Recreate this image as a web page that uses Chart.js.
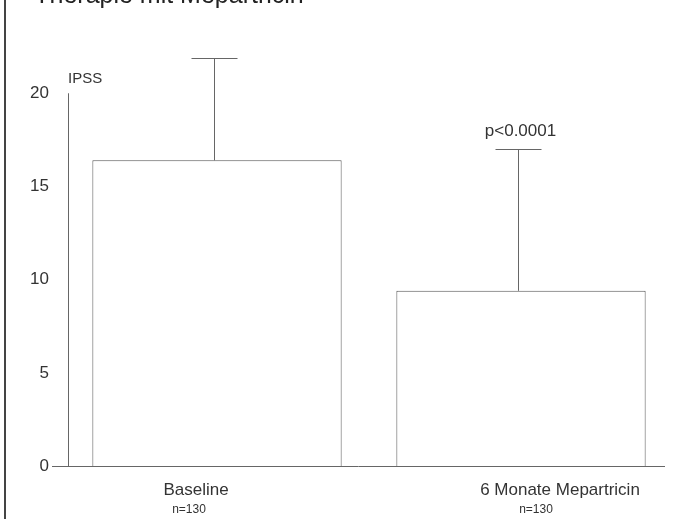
<!DOCTYPE html>
<html>
<head>
<meta charset="utf-8">
<script src="https://cdn.jsdelivr.net/npm/chart.js@4"></script>
<style>
  html, body { margin: 0; padding: 0; background: #fff; }
  #wrap { position: relative; width: 679px; height: 519px; }
</style>
</head>
<body>
<div id="wrap"><canvas id="ipssChart"></canvas></div>
<script>
const categories = ['Baseline', '6 Monate Mepartricin'];
const sampleSizes = ['n=130', 'n=130'];
const ipssMean = [16.4, 9.4];
const ipssSD = [5.5, 7.6];
const yTicks = [0, 5, 10, 15, 20];
const pValues = ['', 'p<0.0001'];

const FONT = '"Liberation Sans", Arial, Helvetica, sans-serif';
const LINE = '#666';
const TEXT = '#333';

// error bars, axis lines, labels and the cropped title
const decorations = {
    id: 'decorations',
    afterDatasetsDraw(chart) {
        const ctx = chart.ctx;
        const area = chart.chartArea;
        const x = chart.scales.x;
        const y = chart.scales.y;
        const meta = chart.getDatasetMeta(0);

        ctx.save();
        ctx.strokeStyle = LINE;
        ctx.lineWidth = 1;

        // error bars (upper half only)
        meta.data.forEach((bar, i) => {
            const cx = Math.round(bar.x) - 2.5;
            const top = y.getPixelForValue(ipssMean[i] + ipssSD[i]);
            ctx.beginPath();
            ctx.moveTo(cx, bar.y);
            ctx.lineTo(cx, Math.round(top) + 0.5);
            ctx.moveTo(cx - 23, Math.round(top) + 0.5);
            ctx.lineTo(cx + 23, Math.round(top) + 0.5);
            ctx.stroke();

            if (pValues[i]) {
                ctx.fillStyle = TEXT;
                ctx.font = '17px ' + FONT;
                ctx.textAlign = 'center';
                ctx.textBaseline = 'alphabetic';
                ctx.fillText(pValues[i], cx + 2, top - 13);
            }
        });

        // axis lines
        const axisX = area.left + 3.5;
        const zero = Math.round(y.getPixelForValue(0)) + 0.5;
        ctx.beginPath();
        ctx.moveTo(axisX, y.getPixelForValue(20));
        ctx.lineTo(axisX, zero);
        ctx.moveTo(area.left - 13, zero);
        ctx.lineTo(area.right - 8, zero);
        ctx.stroke();

        // frame line on the left edge
        ctx.strokeStyle = '#444';
        ctx.lineWidth = 2;
        ctx.beginPath();
        ctx.moveTo(5, 0);
        ctx.lineTo(5, chart.height);
        ctx.stroke();

        // axis title
        ctx.fillStyle = TEXT;
        ctx.textAlign = 'left';
        ctx.textBaseline = 'alphabetic';
        ctx.font = '15px ' + FONT;
        ctx.fillText('IPSS', area.left + 3, y.getPixelForValue(20) - 10);

        // category labels with sample size
        const labelShift = [-21, 39];
        const nShift = [-28, 15];
        categories.forEach((name, i) => {
            const cx = x.getPixelForValue(i);
            ctx.textAlign = 'center';
            ctx.font = '17px ' + FONT;
            ctx.fillText(name, cx + labelShift[i], zero + 28);
            ctx.font = '12px ' + FONT;
            ctx.fillText(sampleSizes[i], cx + nShift[i], zero + 46);
        });

        // title, cut off by the top edge
        ctx.font = '25px ' + FONT;
        ctx.fillStyle = '#222';
        ctx.fillText('Therapie mit Mepartricin', 32 + 137, 3);
        ctx.restore();
    }
};

new Chart(document.getElementById('ipssChart'), {
    type: 'bar',
    data: {
        labels: categories,
        datasets: [{
            label: 'IPSS',
            data: ipssMean,
            backgroundColor: '#fff',
            borderColor: '#555',
            borderWidth: 1,
            barPercentage: 0.82,
            categoryPercentage: 1
        }]
    },
    options: {
        responsive: true,
        maintainAspectRatio: false,
        animation: false,
        layout: { padding: { left: 0, right: 6, top: 56, bottom: 53 } },
        plugins: {
            legend: { display: false },
            tooltip: { enabled: false }
        },
        scales: {
            x: { display: false },
            y: {
                min: 0,
                max: 22,
                afterBuildTicks(scale) {
                    scale.ticks = yTicks.map(v => ({ value: v }));
                },
                afterFit(scale) { scale.width = 65; },
                grid: { display: false, drawTicks: false },
                border: { display: false },
                ticks: {
                    padding: 16,
                    color: TEXT,
                    font: { family: FONT, size: 17 }
                }
            }
        }
    },
    plugins: [decorations]
});
</script>
</body>
</html>
